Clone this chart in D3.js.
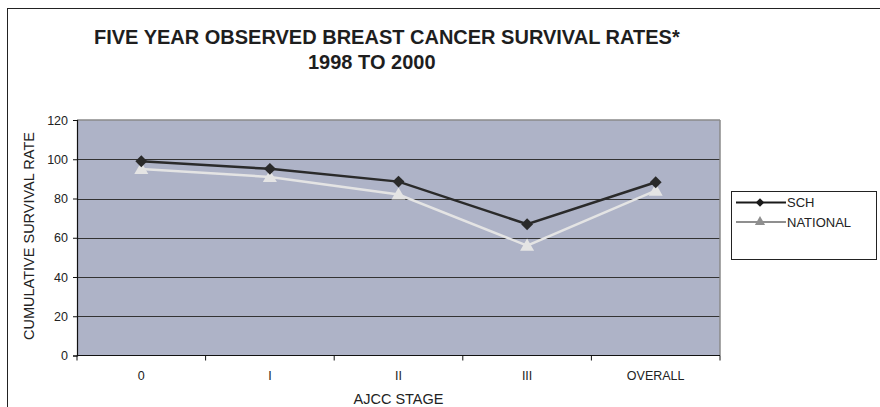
<!DOCTYPE html>
<html>
<head>
<meta charset="utf-8">
<script src="https://cdn.jsdelivr.net/npm/d3@7"></script>
<style>
  html, body { margin: 0; padding: 0; background: #ffffff; }
  svg { display: block; font-family: "Liberation Sans", Arial, sans-serif; }
</style>
</head>
<body>
<svg id="chart" width="880" height="407"></svg>
<script>
const categories = ["0", "I", "II", "III", "OVERALL"];
const schValues = [99, 95.1, 88.6, 66.9, 88.3];
const nationalValues = [95, 91, 82, 56, 84];
const yTicks = [0, 20, 40, 60, 80, 100, 120];
const seriesNames = ["SCH", "NATIONAL"];
const titleLines = ["FIVE YEAR OBSERVED BREAST CANCER SURVIVAL RATES*", "1998 TO 2000"];
const xTitle = "AJCC STAGE";
const yTitle = "CUMULATIVE SURVIVAL RATE";

const svg = d3.select("#chart");
const plot = { left: 77, right: 720, top: 120, bottom: 355.5 };

// outer frame
svg.append("rect").attr("x", 7.5).attr("y", 8.5).attr("width", 900).attr("height", 420)
  .attr("fill", "none").attr("stroke", "#222").attr("stroke-width", 1);

// titles
svg.append("text").attr("x", 94).attr("y", 43.5).attr("font-size", 20).attr("font-weight", "bold")
  .attr("fill", "#1e1e1e").text(titleLines[0]);
svg.append("text").attr("x", 308).attr("y", 69).attr("font-size", 20).attr("font-weight", "bold")
  .attr("fill", "#1e1e1e").text(titleLines[1]);

const x = d3.scaleBand().domain(categories).range([plot.left, plot.right]);
const y = d3.scaleLinear().domain([0, 120]).range([plot.bottom, plot.top]);

// plot background
svg.append("rect").attr("x", plot.left).attr("y", plot.top)
  .attr("width", plot.right - plot.left).attr("height", plot.bottom - plot.top)
  .attr("fill", "#aeb3c7");

// gridlines
svg.append("g").selectAll("line").data(yTicks.filter(d => d > 0 && d < 120)).join("line")
  .attr("x1", plot.left).attr("x2", plot.right)
  .attr("y1", d => Math.round(y(d)) + 0.5).attr("y2", d => Math.round(y(d)) + 0.5)
  .attr("stroke", "#333").attr("stroke-width", 1);

// top and right border (gray)
svg.append("line").attr("x1", plot.left).attr("x2", plot.right).attr("y1", plot.top).attr("y2", plot.top)
  .attr("stroke", "#8a8a8a").attr("stroke-width", 1.5);
svg.append("line").attr("x1", plot.right).attr("x2", plot.right).attr("y1", plot.top).attr("y2", plot.bottom)
  .attr("stroke", "#8a8a8a").attr("stroke-width", 1.5);

// y axis
const yAxis = d3.axisLeft(y).tickValues(yTicks).tickSize(4).tickPadding(5);
const gy = svg.append("g").attr("transform", `translate(${plot.left},0)`).call(yAxis);
gy.select(".domain").attr("stroke", "#111").attr("stroke-width", 1.2);
gy.selectAll(".tick line").attr("stroke", "#111");
gy.selectAll("text").attr("font-size", 12.5).attr("fill", "#222").attr("font-family", "Liberation Sans, Arial, sans-serif");

// x axis with ticks at band boundaries
const gx = svg.append("g").attr("transform", `translate(0,${plot.bottom})`);
gx.append("line").attr("x1", plot.left).attr("x2", plot.right).attr("stroke", "#111").attr("stroke-width", 1.2);
const bounds = categories.map(c => x(c)).concat([x(categories[categories.length - 1]) + x.bandwidth()]);
gx.selectAll("line.tk").data(bounds).join("line").attr("class", "tk")
  .attr("x1", d => d).attr("x2", d => d).attr("y1", 0).attr("y2", 5).attr("stroke", "#111");
gx.selectAll("text").data(categories).join("text")
  .attr("x", d => x(d) + x.bandwidth() / 2).attr("y", 24)
  .attr("text-anchor", "middle").attr("font-size", 12.5).attr("fill", "#222").text(d => d);

// axis titles
svg.append("text").attr("x", 398.5).attr("y", 404).attr("text-anchor", "middle")
  .attr("font-size", 14.5).attr("fill", "#222").text(xTitle);
svg.append("text").attr("transform", `translate(34,236) rotate(-90)`).attr("text-anchor", "middle")
  .attr("font-size", 14.5).attr("fill", "#222").text(yTitle);

const cx = d => x(d) + x.bandwidth() / 2;
const line = d3.line().x(d => cx(d.c)).y(d => y(d.v));
const schData = categories.map((c, i) => ({ c, v: schValues[i] }));
const natData = categories.map((c, i) => ({ c, v: nationalValues[i] }));

const diamond = d3.symbol().type(d3.symbolDiamond2).size(90);
const triangle = d3.symbol().type(d3.symbolTriangle).size(85);

// NATIONAL series
svg.append("path").datum(natData).attr("d", line).attr("fill", "none")
  .attr("stroke", "#e4e4e4").attr("stroke-width", 2.5);
// SCH series
svg.append("path").datum(schData).attr("d", line).attr("fill", "none")
  .attr("stroke", "#2a2a2a").attr("stroke-width", 2.5);
svg.append("g").selectAll("path").data(natData).join("path")
  .attr("transform", d => `translate(${cx(d.c)},${y(d.v) + 1})`)
  .attr("d", triangle).attr("fill", "#e4e4e4");
svg.append("g").selectAll("path").data(schData).join("path")
  .attr("transform", d => `translate(${cx(d.c)},${y(d.v)})`)
  .attr("d", diamond).attr("fill", "#2a2a2a");

// legend
const lg = svg.append("g");
lg.append("rect").attr("x", 731.5).attr("y", 191.5).attr("width", 145).attr("height", 68)
  .attr("fill", "#fff").attr("stroke", "#222").attr("stroke-width", 1);
const legendItems = [
  { name: seriesNames[0], color: "#1a1a1a", sym: d3.symbol().type(d3.symbolDiamond2).size(45) },
  { name: seriesNames[1], color: "#8f8f8f", sym: d3.symbol().type(d3.symbolTriangle).size(45) }
];
legendItems.forEach((it, i) => {
  const yy = 202.5 + i * 19.5;
  lg.append("line").attr("x1", 736).attr("x2", 786).attr("y1", yy).attr("y2", yy)
    .attr("stroke", it.color).attr("stroke-width", 2);
  lg.append("path").attr("transform", `translate(760,${yy})`).attr("d", it.sym()).attr("fill", it.color);
  lg.append("text").attr("x", 787).attr("y", yy + 4.5).attr("font-size", 13).attr("fill", "#222").text(it.name);
});
</script>
</body>
</html>
